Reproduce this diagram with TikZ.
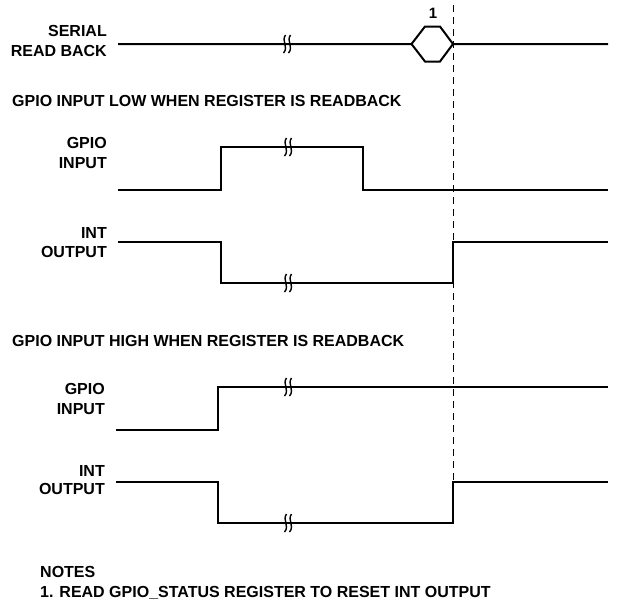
\documentclass[tikz,border=0pt]{standalone}
\usepackage{fontspec}
\setmainfont{Liberation Sans}
\begin{document}
\begin{tikzpicture}[x=1pt,y=-1pt,
  lbl/.style={anchor=base east,inner sep=0pt,font=\fontsize{16}{19}\selectfont\bfseries},
  ttl/.style={anchor=base west,inner sep=0pt,font=\fontsize{16}{19}\selectfont\bfseries},
  wave/.style={line width=2pt,line join=miter,line cap=butt},
  brk/.pic={
    \draw[line width=1.4pt] (-1.5,-9) .. controls (-6,-3) and (2,3) .. (-3.5,9);
    \draw[line width=1.4pt] (3.5,-9) .. controls (-1,-3) and (7,3) .. (1.5,9);
  }]
\useasboundingbox (0,0) rectangle (621,603);

% Serial read back
\node[lbl] (srl1) at (107,36.7) {SERIAL};
\node[lbl] (srl2) at (107,56) {READ BACK};
\draw[wave] (118,44) -- (411.5,44) -- (425,26.5) -- (440,26.5) -- (453,44) -- (608,44);
\draw[wave] (411.5,44) -- (425,61.5) -- (440,61.5) -- (453,44);
\node[inner sep=0pt,font=\fontsize{15}{18}\selectfont\bfseries] (note1) at (433,13) {1};

% Read-back instant
\coordinate (rdtop) at (453,5);
\coordinate (rdbot) at (453,482);
\draw[line width=1pt,dash pattern=on 7pt off 5pt] (rdtop) -- (rdbot);

% Case 1: GPIO input low
\node[ttl] (ttl1) at (12,106) {GPIO INPUT LOW WHEN REGISTER IS READBACK};
\node[lbl] (gpa1) at (107,148) {GPIO};
\node[lbl] (gpa2) at (107,168) {INPUT};
\draw[wave] (118,190) -- (221,190) -- (221,147) -- (363,147) -- (363,190) -- (608,190);
\node[lbl] (inta1) at (107,238) {INT};
\node[lbl] (inta2) at (107,257) {OUTPUT};
\draw[wave] (118,241.5) -- (221,241.5) -- (221,283) -- (453,283) -- (453,241.5) -- (608,241.5);

% Case 2: GPIO input high
\node[ttl] (ttl2) at (12,346) {GPIO INPUT HIGH WHEN REGISTER IS READBACK};
\node[lbl] (gpb1) at (105,394) {GPIO};
\node[lbl] (gpb2) at (105,414) {INPUT};
\draw[wave] (116,430) -- (218,430) -- (218,387) -- (608,387);
\node[lbl] (intb1) at (105,476) {INT};
\node[lbl] (intb2) at (105,494) {OUTPUT};
\draw[wave] (116,481.5) -- (218,481.5) -- (218,523) -- (453,523) -- (453,481.5) -- (608,481.5);

% Time breaks
\foreach \x/\y in {287/44, 288/147, 288/283, 288/387, 288/523}
  \pic at (\x,\y) {brk};

% Notes
\node[ttl] (nts1) at (40,577) {NOTES};
\node[ttl] (nts2) at (40,597) {1. READ GPIO\_STATUS REGISTER TO RESET INT OUTPUT};
\end{tikzpicture}
\end{document}
